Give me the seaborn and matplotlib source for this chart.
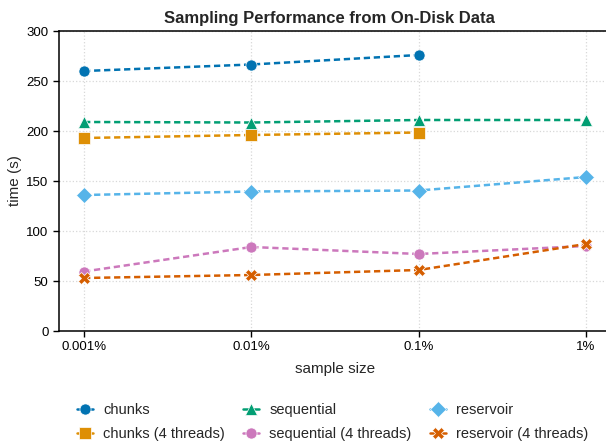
import matplotlib
matplotlib.use("Agg")
import matplotlib.pyplot as plt
from matplotlib.lines import Line2D
import seaborn as sns
import pandas as pd

sample_sizes = ["0.001%", "0.01%", "0.1%", "1%"]
chunks = [260, 266.5, 276]
chunks_4t = [193, 196, 198.5]
sequential = [209, 208.5, 211, 211]
sequential_4t = [59.5, 84, 77, 85]
reservoir = [136, 139.5, 140.5, 154]
reservoir_4t = [53, 56, 61, 87]

series = {
    "chunks": chunks,
    "chunks (4 threads)": chunks_4t,
    "sequential": sequential,
    "sequential (4 threads)": sequential_4t,
    "reservoir": reservoir,
    "reservoir (4 threads)": reservoir_4t,
}
rows = []
for name, vals in series.items():
    for i, v in enumerate(vals):
        rows.append({"method": name, "pos": i, "time": v})
df = pd.DataFrame(rows)

cb = sns.color_palette("colorblind")
palette = {
    "chunks": cb[0],
    "chunks (4 threads)": cb[1],
    "sequential": cb[2],
    "sequential (4 threads)": cb[4],
    "reservoir": cb[9],
    "reservoir (4 threads)": cb[3],
}
markers = {
    "chunks": "o",
    "chunks (4 threads)": "s",
    "sequential": "^",
    "sequential (4 threads)": "o",
    "reservoir": "D",
    "reservoir (4 threads)": "X",
}
dashes = {k: (2.5, 1.5) for k in series}

sns.set_theme(style="ticks")
plt.rcParams["font.family"] = ["Liberation Sans", "DejaVu Sans"]

fig = plt.figure(figsize=(6.06, 4.44), dpi=100)
W, H = 606, 444
ax = fig.add_axes([59 / W, 1 - 331 / H, (611 - 59) / W, 300 / H])

sns.lineplot(data=df, x="pos", y="time", hue="method", style="method",
             palette=palette, markers=markers, dashes=dashes,
             hue_order=list(series), style_order=list(series),
             linewidth=1.8, markersize=8, markeredgewidth=0.5, ax=ax, legend=False)

ax.set_xlim(-0.15, 3.15)
ax.set_ylim(0, 300)
ax.set_xticks(range(len(sample_sizes)))
ax.set_xticklabels(sample_sizes)
ax.set_yticks([0, 50, 100, 150, 200, 250, 300])
ax.tick_params(labelsize=9.5, length=4, width=1, colors="black")
ax.grid(True, linestyle=":", color="#d8d8d8", linewidth=0.9)
for s in ax.spines.values():
    s.set_linewidth(1.1)
    s.set_color("black")
ax.set_xlabel("sample size", fontsize=11, labelpad=6)
ax.set_ylabel("time (s)", fontsize=11, labelpad=3)
ax.set_title("Sampling Performance from On-Disk Data", fontsize=12, fontweight="bold",
             pad=6, x=0.49)

handles = [Line2D([], [], color=palette[k], marker=markers[k], markersize=8,
                  markeredgewidth=0.5, markeredgecolor="white", linewidth=1.8)
           for k in series]
ax.legend(handles, list(series), ncol=3, loc="upper left",
          bbox_to_anchor=(77 / W, 1 - 403 / H), bbox_transform=fig.transFigure,
          frameon=False, fontsize=10.5, handlelength=1.1, columnspacing=1.25,
          handletextpad=0.7, labelspacing=0.7, borderpad=0, borderaxespad=0)

fig.savefig("out.png", dpi=100)
